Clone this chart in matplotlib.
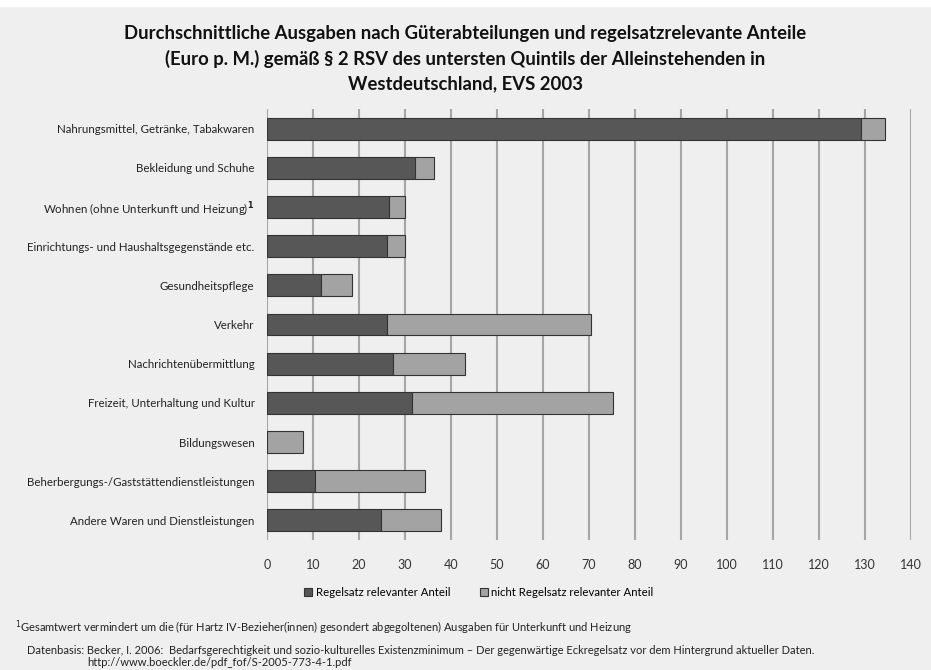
import matplotlib
matplotlib.use("Agg")
import matplotlib.pyplot as plt
from matplotlib.patches import Rectangle

plt.rcParams['font.family'] = ['Lato', 'DejaVu Sans']

categories = [
    "Nahrungsmittel, Getränke, Tabakwaren",
    "Bekleidung und Schuhe",
    "Wohnen (ohne Unterkunft und Heizung)$^\\mathbf{1}$",
    "Einrichtungs- und Haushaltsgegenstände etc.",
    "Gesundheitspflege",
    "Verkehr",
    "Nachrichtenübermittlung",
    "Freizeit, Unterhaltung und Kultur",
    "Bildungswesen",
    "Beherbergungs-/Gaststättendienstleistungen",
    "Andere Waren und Dienstleistungen",
]
relevant = [129.2, 32.2, 26.5, 26.0, 11.8, 26.0, 27.4, 31.5, 0.0, 10.4, 24.7]
not_relevant = [5.2, 4.0, 3.5, 4.0, 6.6, 44.5, 15.6, 43.8, 7.9, 23.9, 13.2]
xticks = list(range(0, 141, 10))

bg = "#efefef"
dark = "#575757"
light = "#a3a3a3"

fig = plt.figure(figsize=(9.31, 6.70), dpi=100, facecolor=bg)
fig.patches.append(Rectangle((0, 1 - 7 / 670), 1, 7 / 670, transform=fig.transFigure,
                             facecolor="white", edgecolor="none", zorder=-1))

ax = fig.add_axes([267 / 931, 1 - 540 / 670, (911 - 267) / 931, (540 - 109) / 670])
ax.set_facecolor(bg)
y = list(range(len(categories)))
ax.barh(y, relevant, height=0.56, color=dark, edgecolor="#333333", linewidth=0.8,
        label="Regelsatz relevanter Anteil", zorder=3)
ax.barh(y, not_relevant, left=relevant, height=0.56, color=light, edgecolor="#333333",
        linewidth=0.8, label="nicht Regelsatz relevanter Anteil", zorder=3)
ax.set_ylim(10.5, -0.5)
ax.set_xlim(0, 140)
ax.set_xticks(xticks)
ax.set_xticklabels([str(t) for t in xticks], fontsize=9, color="#333333")
ax.set_yticks(y)
ax.set_yticklabels(categories, fontsize=8.3, color="#222222")
ax.tick_params(axis='y', length=0, pad=9)
ax.tick_params(axis='x', length=0, pad=14)
for s in ax.spines.values():
    s.set_visible(False)
ax.grid(axis='x', color="#a5a5a5", linewidth=1.5, zorder=0)

fig.text(0.5, 1 - 25 / 670,
         "Durchschnittliche Ausgaben nach Güterabteilungen und regelsatzrelevante Anteile\n"
         "(Euro p. M.) gemäß § 2 RSV des untersten Quintils der Alleinstehenden in\n"
         "Westdeutschland, EVS 2003",
         ha="center", va="top", fontsize=13.3, fontweight="bold", linespacing=1.52,
         color="#111111")

leg = fig.legend(loc="center", bbox_to_anchor=(479 / 931, 1 - 592 / 670), ncol=2,
                 frameon=False, fontsize=8.2, handlelength=0.7, handleheight=0.7,
                 handletextpad=0.3, columnspacing=2.6)

fig.text(15 / 931, 1 - 628 / 670,
         "$^1$Gesamtwert vermindert um die (für Hartz IV-Bezieher(innen) gesondert abgegoltenen) Ausgaben für Unterkunft und Heizung",
         ha="left", va="center", fontsize=8, color="#222222")
fig.text(27 / 931, 1 - 651 / 670,
         "Datenbasis: Becker, I. 2006:  Bedarfsgerechtigkeit und sozio-kulturelles Existenzminimum – Der gegenwärtige Eckregelsatz vor dem Hintergrund aktueller Daten.",
         ha="left", va="center", fontsize=8, color="#222222")
fig.text(87 / 931, 1 - 662 / 670,
         "http://www.boeckler.de/pdf_fof/S-2005-773-4-1.pdf",
         ha="left", va="center", fontsize=8, color="#222222")

fig.savefig("out.png", dpi=100, facecolor=bg)
